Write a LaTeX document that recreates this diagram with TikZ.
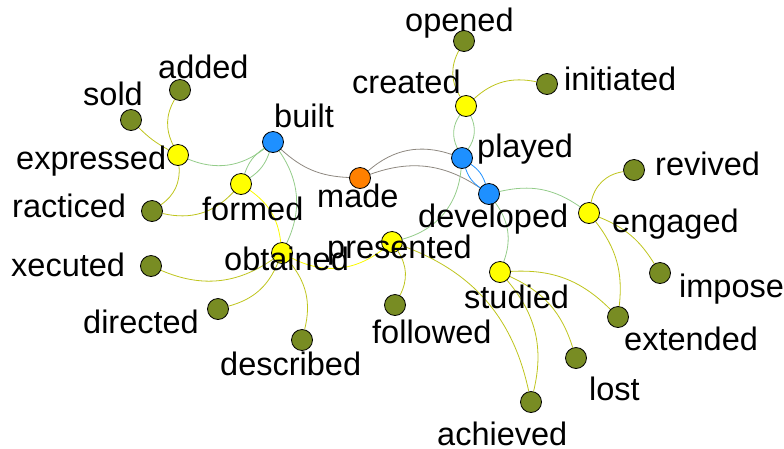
\documentclass[tikz,border=0pt]{standalone}
\usepackage{fontspec}
\setmainfont{Liberation Sans}
\definecolor{bluenode}{RGB}{30,144,255}
\definecolor{orangenode}{RGB}{255,128,0}
\definecolor{yellownode}{RGB}{255,255,0}
\definecolor{olivenode}{RGB}{120,140,35}
\definecolor{greenedge}{RGB}{148,204,138}
\definecolor{grayedge}{RGB}{142,136,128}
\definecolor{oliveedge}{RGB}{190,196,28}
\definecolor{yellowedge}{RGB}{250,250,0}
\definecolor{blueedge}{RGB}{30,144,255}
\pgfdeclarelayer{edgelayer}
\pgfsetlayers{edgelayer,main}
\begin{document}
\begin{tikzpicture}[x=1pt,y=-1pt,
  vtx/.style={circle,draw=black,line width=0.8pt,minimum size=21pt,inner sep=0pt},
  bnode/.style={vtx,fill=bluenode},
  onode/.style={vtx,fill=orangenode},
  ynode/.style={vtx,fill=yellownode},
  gnode/.style={vtx,fill=olivenode},
  lbl/.style={anchor=base west,inner sep=0pt,font=\fontsize{32.5}{32.5}\selectfont},
  edge/.style={line width=0.8pt},
  ge/.style={edge,draw=greenedge},
  gre/.style={edge,draw=grayedge},
  oe/.style={edge,draw=oliveedge},
  ye/.style={edge,draw=yellowedge},
  be/.style={edge,draw=blueedge}]
\useasboundingbox (0,0) rectangle (784,448);
% nodes
\node[bnode] (built) at (273,142) {};
\node[onode] (made) at (360,178) {};
\node[bnode] (played) at (462,158) {};
\node[bnode] (developed) at (489,194) {};
\node[ynode] (created) at (466,106) {};
\node[gnode] (opened) at (464,41) {};
\node[gnode] (initiated) at (547,84) {};
\node[gnode] (revived) at (634,170) {};
\node[ynode] (engaged) at (589,213) {};
\node[ynode] (expressed) at (178,155) {};
\node[gnode] (sold) at (131,120) {};
\node[gnode] (added) at (180,90) {};
\node[gnode] (racticed) at (152,211) {};
\node[ynode] (formed) at (241,184) {};
\node[ynode] (obtained) at (282,253) {};
\node[gnode] (xecuted) at (151,266) {};
\node[gnode] (directed) at (218,309) {};
\node[gnode] (described) at (302,340) {};
\node[ynode] (presented) at (392,242) {};
\node[gnode] (followed) at (395,305) {};
\node[ynode] (studied) at (500,272) {};
\node[gnode] (extended) at (618,317) {};
\node[gnode] (impose) at (660,273) {};
\node[gnode] (lost) at (576,358) {};
\node[gnode] (achieved) at (531,402) {};
% edges
\begin{pgfonlayer}{edgelayer}
\draw[oe] (expressed) to[bend left=8] (sold);
\draw[oe] (expressed) to[bend left=28] (added);
\draw[oe] (expressed) to[bend left=30] (racticed);
\draw[ge] (expressed) to[bend right=30] (built);
\draw[ge] (built) to[bend right=18] (formed);
\draw[ge] (built) to[bend left=18] (formed);
\draw[ge] (built) to[bend left=30] (obtained);
\draw[gre] (built) to[bend right=20] (made);
\draw[gre] (made) to[bend left=30] (played);
\draw[gre] (made) to[bend left=27] (developed);
\draw[be] (played) to[bend left=18] (developed);
\draw[be] (played) to[bend right=18] (developed);
\draw[ge] (played) to[bend left=30] (created);
\draw[ge] (played) to[bend right=30] (created);
\draw[ge] (played) to[bend left=35] (presented);
\draw[ge] (developed) to[bend left=24] (engaged);
\draw[ge] (developed) to[bend left=28] (studied);
\draw[oe] (created) to[bend left=30] (opened);
\draw[oe] (created) to[bend left=27] (initiated);
\draw[oe] (engaged) to[bend left=35] (revived);
\draw[oe] (engaged) to[bend left=18] (impose);
\draw[oe] (engaged) to[bend left=22] (extended);
\draw[oe] (studied) to[bend left=24] (extended);
\draw[oe] (studied) to[bend left=24] (lost);
\draw[oe] (studied) to[bend left=27] (achieved);
\draw[oe] (presented) to[bend left=29] (achieved);
\draw[oe] (presented) to[bend left=30] (followed);
\draw[ye] (obtained) to[bend right=33] (presented);
\draw[ye] (formed) to[bend left=24] (obtained);
\draw[oe] (formed) to[bend left=30] (racticed);
\draw[oe] (obtained) to[bend left=29] (xecuted);
\draw[oe] (obtained) to[bend left=26] (directed);
\draw[oe] (obtained) to[bend left=27] (described);
\end{pgfonlayer}
% labels
\node[lbl] (l-built) at (274,127) {built};
\node[lbl] (l-made) at (317,207) {made};
\node[lbl] (l-played) at (477,157) {played};
\node[lbl] (l-developed) at (418,227) {developed};
\node[lbl] (l-created) at (352,93) {created};
\node[lbl] (l-opened) at (405,31) {opened};
\node[lbl] (l-initiated) at (564,90) {initiated};
\node[lbl] (l-revived) at (655,175) {revived};
\node[lbl] (l-engaged) at (612,232) {engaged};
\node[lbl] (l-expressed) at (16,169) {expressed};
\node[lbl] (l-sold) at (83,105) {sold};
\node[lbl] (l-added) at (158,78) {added};
\node[lbl] (l-racticed) at (12,217) {racticed};
\node[lbl] (l-formed) at (202,220) {formed};
\node[lbl] (l-obtained) at (224,270) {obtained};
\node[lbl] (l-xecuted) at (11,276) {xecuted};
\node[lbl] (l-directed) at (83,333) {directed};
\node[lbl] (l-described) at (220,375) {described};
\node[lbl] (l-presented) at (327,258) {presented};
\node[lbl] (l-followed) at (372,343) {followed};
\node[lbl] (l-studied) at (464,308) {studied};
\node[lbl] (l-impose) at (679,297) {impose};
\node[lbl] (l-extended) at (624,350) {extended};
\node[lbl] (l-lost) at (589,400) {lost};
\node[lbl] (l-achieved) at (437,445) {achieved};
\end{tikzpicture}
\end{document}
